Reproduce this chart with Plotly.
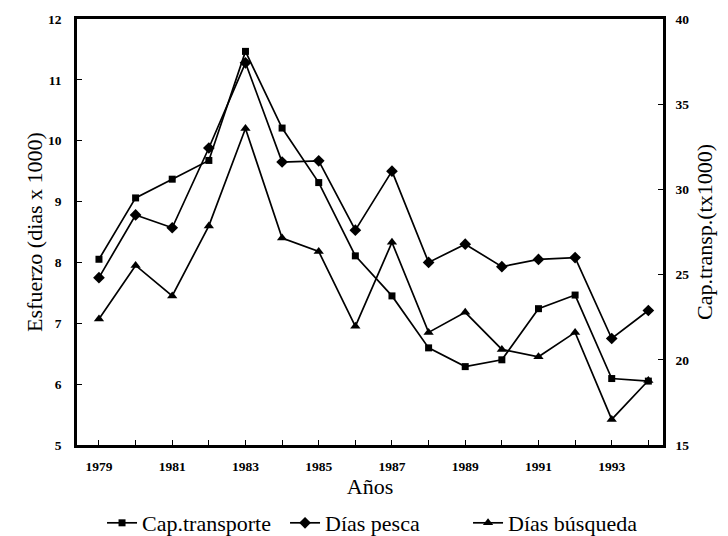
import plotly.graph_objects as go

years = list(range(1979, 1995))
cap_transporte = [25.9, 29.5, 30.6, 31.7, 38.1, 33.6, 30.4, 26.1, 23.75, 20.7, 19.6, 20.0, 23.0, 23.8, 18.9, 18.75]
dias_pesca = [7.75, 8.78, 8.57, 9.88, 11.28, 9.65, 9.67, 8.53, 9.5, 8.0, 8.3, 7.93, 8.05, 8.08, 6.75, 7.21]
dias_busqueda = [7.07, 7.95, 7.45, 8.6, 10.2, 8.4, 8.18, 6.95, 8.33, 6.85, 7.18, 6.57, 6.45, 6.85, 5.42, 6.06]
x_ticklabels = [str(y) if y % 2 == 1 else "" for y in years]

FONT = "Liberation Serif"
TICKFONT = dict(size=13.5, family=FONT, weight="bold")
TITLEFONT = dict(size=22, family=FONT)

fig = go.Figure()
fig.add_trace(go.Scatter(x=years, y=cap_transporte, name="Cap.transporte", yaxis="y2",
                         mode="lines+markers", line=dict(color="black", width=1.7),
                         marker=dict(symbol="square", size=7, color="black")))
fig.add_trace(go.Scatter(x=years, y=dias_pesca, name="Días pesca",
                         mode="lines+markers", line=dict(color="black", width=1.7),
                         marker=dict(symbol="diamond", size=9, color="black")))
fig.add_trace(go.Scatter(x=years, y=dias_busqueda, name="Días búsqueda",
                         mode="lines+markers", line=dict(color="black", width=1.7),
                         marker=dict(symbol="triangle-up", size=9, color="black")))

# page body adds an 8px offset, so the figure is 8px smaller and margins shifted
fig.update_layout(
    width=720, height=528,
    margin=dict(l=69, r=65, t=11, b=91),
    paper_bgcolor="white", plot_bgcolor="white",
    font=dict(family=FONT, color="black"),
    showlegend=True,
    legend=dict(orientation="h", xref="container", yref="container",
                x=0.1306, xanchor="left", y=0.0246, yanchor="middle",
                font=dict(size=22, family=FONT), itemwidth=30,
                entrywidth=138, entrywidthmode="pixels", bgcolor="rgba(0,0,0,0)"),
    xaxis=dict(range=[1978.4, 1994.4], tickvals=years, ticktext=x_ticklabels,
               ticks="inside", ticklen=5, tickcolor="black", showline=True, linecolor="black",
               linewidth=2.5, mirror=True, showgrid=False, zeroline=False, automargin=False,
               tickfont=TICKFONT, ticklabelstandoff=7,
               title=dict(text="Años", font=TITLEFONT, standoff=2)),
    yaxis=dict(range=[5, 12], dtick=1, ticks="inside", ticklen=5, tickcolor="black",
               showline=True, linecolor="black", linewidth=2.5, showgrid=False, zeroline=False,
               automargin=False, tickfont=TICKFONT, ticklabelstandoff=10,
               title=dict(text="Esfuerzo (dias x 1000)", font=TITLEFONT, standoff=0)),
    yaxis2=dict(range=[15, 40], dtick=5, overlaying="y", side="right", ticks="inside",
                ticklen=5, tickcolor="black", showline=True, linecolor="black", linewidth=2.5,
                showgrid=False, zeroline=False, automargin=False, tickfont=TICKFONT,
                ticklabelstandoff=7,
                title=dict(text="Cap.transp.(tx1000)", font=TITLEFONT, standoff=9)),
)
fig.write_html("out.html")
